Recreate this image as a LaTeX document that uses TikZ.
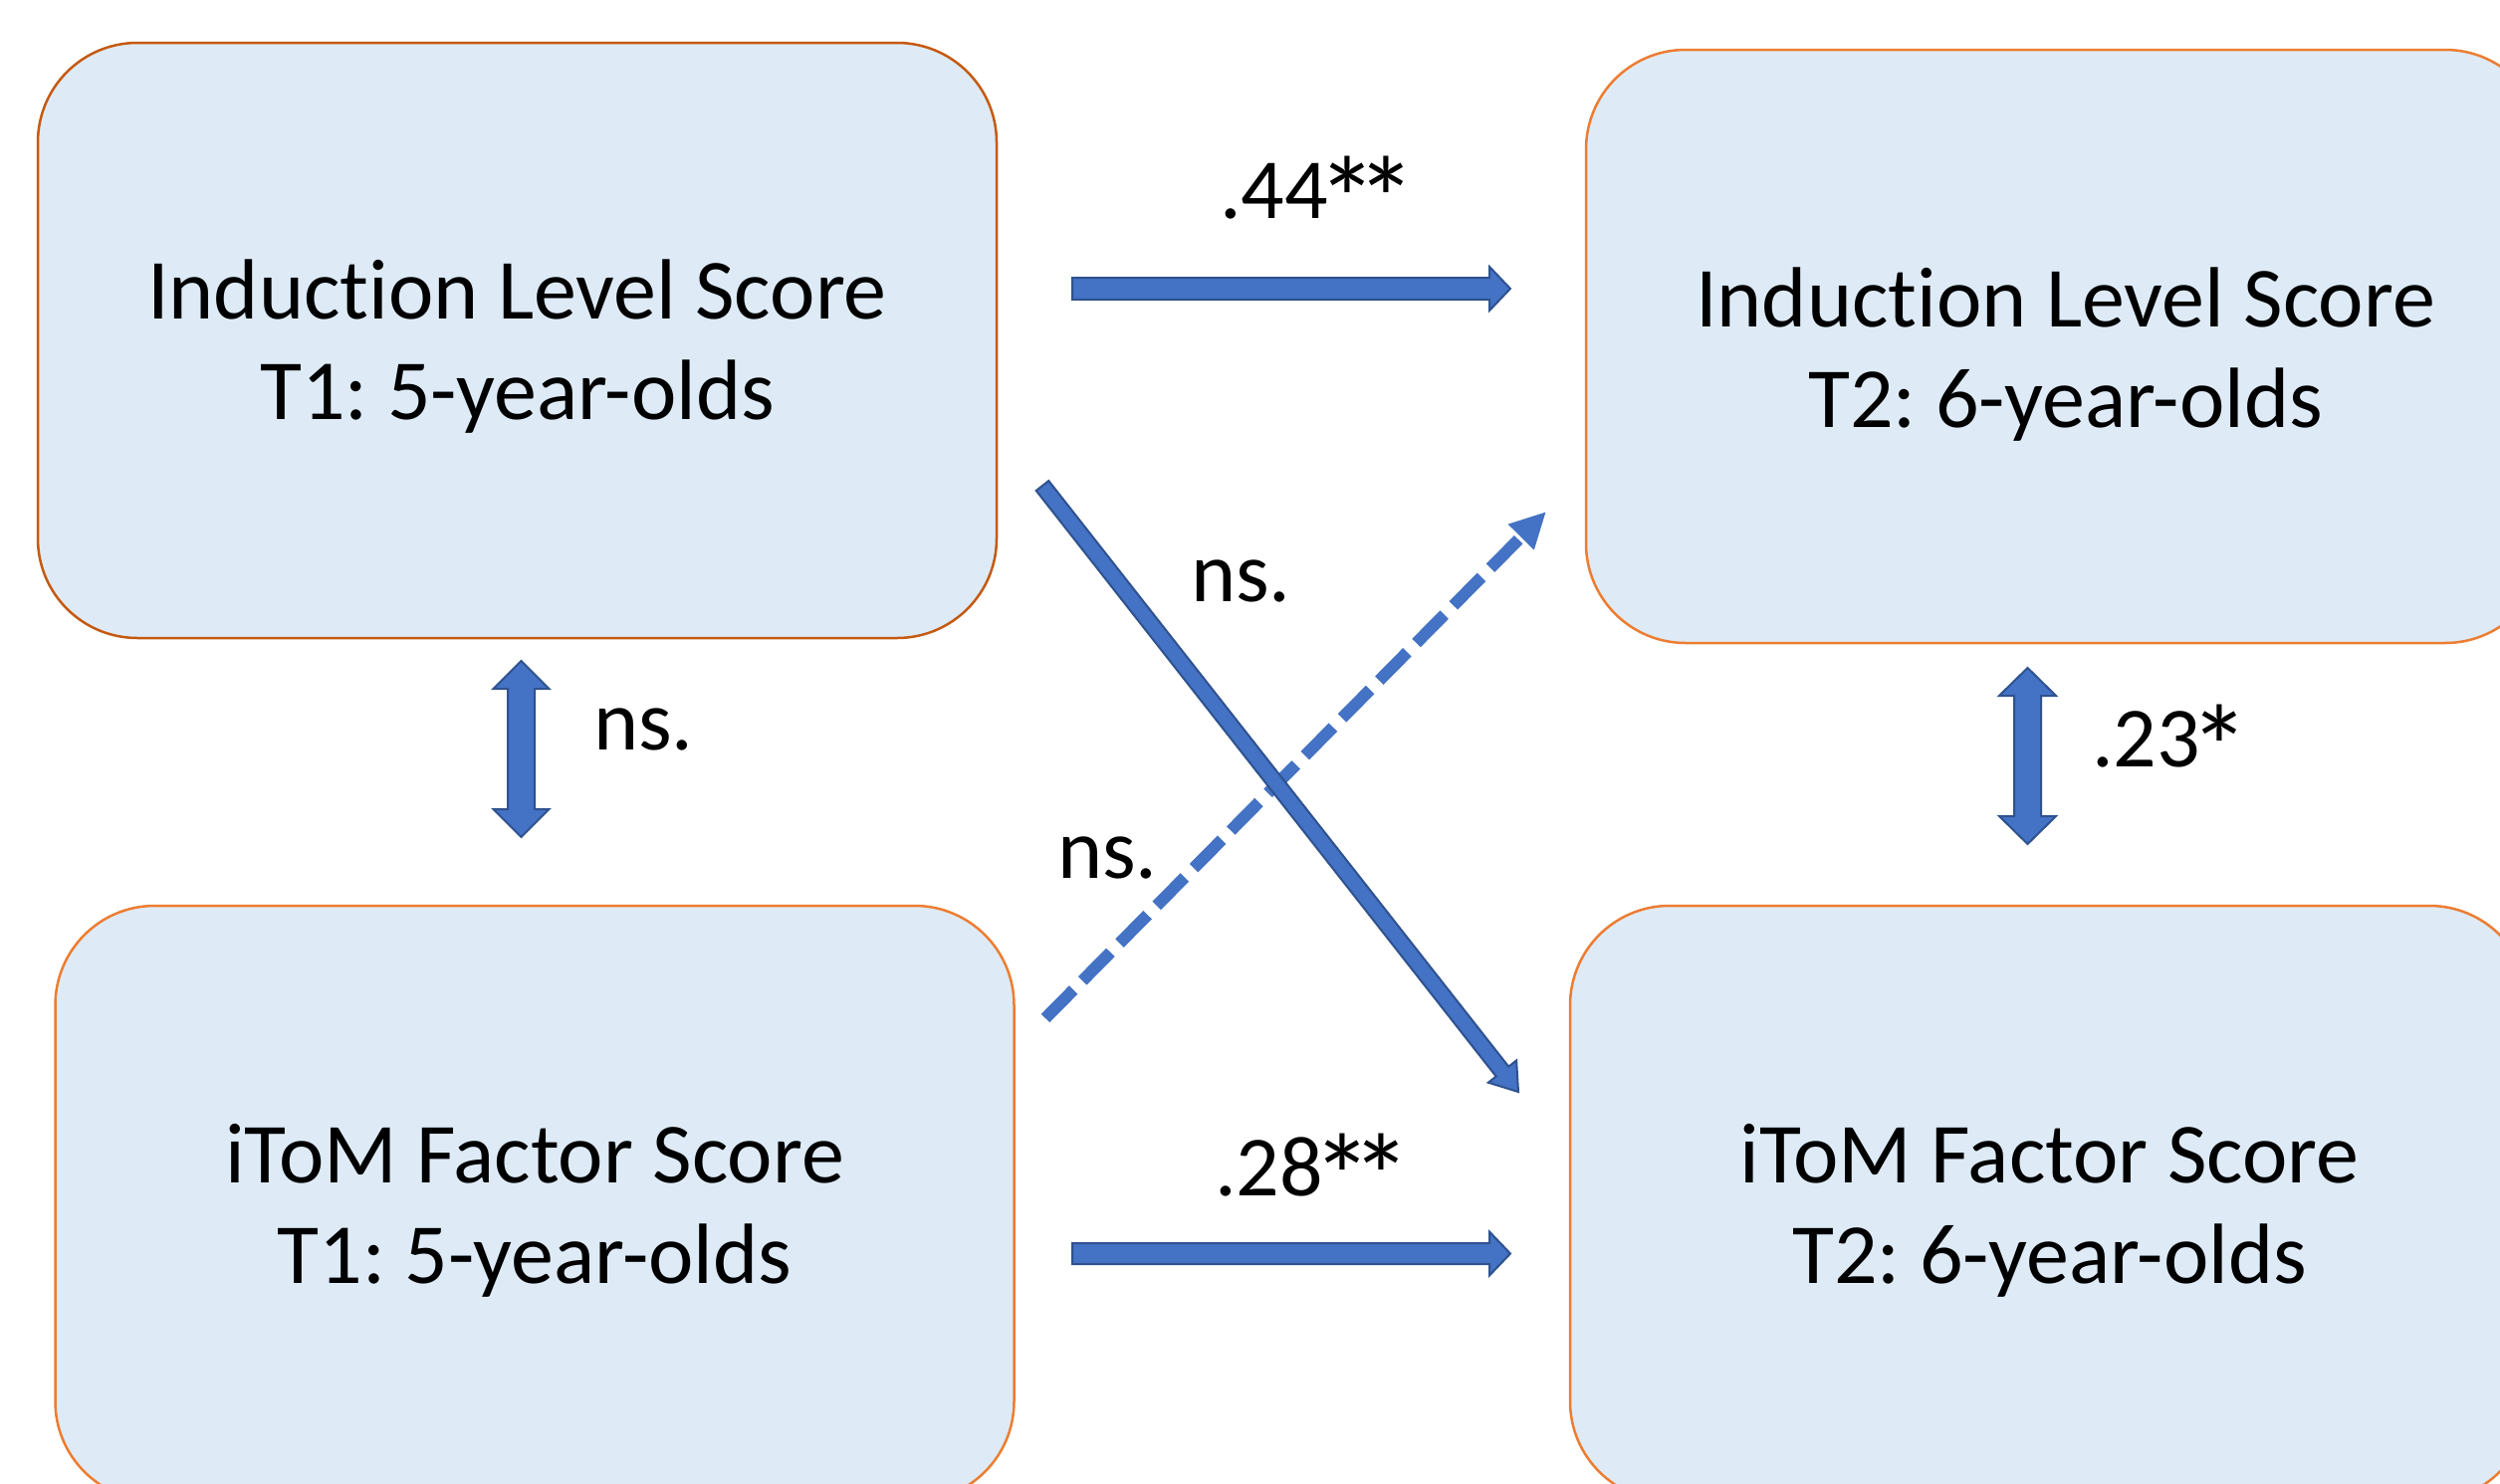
\documentclass[tikz,border=0pt]{standalone}
\usepackage{fontspec}
\setmainfont{Carlito}[Ligatures=NoCommon]
\usetikzlibrary{calc,arrows.meta}
\frenchspacing
\definecolor{boxfill}{HTML}{DEEBF7}
\definecolor{boxline}{HTML}{ED7D31}
\definecolor{boxlinedark}{HTML}{C55A11}
\definecolor{arrowfill}{HTML}{4472C4}
\definecolor{arrowline}{HTML}{2F528F}
\newcommand\bigast{\makebox[0.45em][c]{\raisebox{-0.27em}{\scalebox{1.4}{*}}}}
\tikzset{
  box/.style={draw=boxline, fill=boxfill, line width=2.5pt, rounded corners=100pt,
    minimum width=963pt, minimum height=598pt, inner sep=0pt},
  txt/.style={font=\fontsize{86pt}{101pt}\selectfont, inner sep=0pt, anchor=base},
  lbl/.style={font=\fontsize{86pt}{101pt}\selectfont, inner sep=0pt, anchor=base west},
  blockarrow/.style={fill=arrowfill, draw=arrowline, line width=2pt, line join=miter},
  dasharrow/.style={draw=arrowfill, line width=12pt, dash pattern=on 40pt off 13pt,
    -{Triangle[length=36pt, width=34pt]}},
}
\newcommand\blockarr[5]{%
  \coordinate (ba-c) at ($(#2)!#5!(#1)$);
  \draw[blockarrow] ($(#1)!#3!90:(#2)$) -- ($(ba-c)!#3!90:(#2)$) -- ($(ba-c)!#4!90:(#2)$) -- (#2)
    -- ($(ba-c)!#4!-90:(#2)$) -- ($(ba-c)!#3!-90:(#2)$) -- ($(#1)!#3!-90:(#2)$) -- cycle;
}
\newcommand\dblarr[5]{%
  \coordinate (da-c1) at ($(#1)!#5!(#2)$);
  \coordinate (da-c2) at ($(#2)!#5!(#1)$);
  \draw[blockarrow] (#1) -- ($(da-c1)!#4!90:(#2)$) -- ($(da-c1)!#3!90:(#2)$) -- ($(da-c2)!#3!90:(#2)$)
    -- ($(da-c2)!#4!90:(#2)$) -- (#2) -- ($(da-c2)!#4!-90:(#2)$) -- ($(da-c2)!#3!-90:(#2)$)
    -- ($(da-c1)!#3!-90:(#2)$) -- ($(da-c1)!#4!-90:(#2)$) -- cycle;
}
\begin{document}
\begin{tikzpicture}[x=1pt, y=-1pt]
\useasboundingbox (0,0) rectangle (2511,1491);
\clip (0,0) rectangle (2511,1491);
\fill[white] (0,0) rectangle (2511,1491);

% boxes
\node[box, draw=boxlinedark] (tl) at (519.5,342) {};
\node[box, minimum height=596pt] (tr) at (2074.5,348) {};
\node[box] (bl) at (537,1209) {};
\node[box] (br) at (2058.5,1209) {};

% box texts
\node[txt] (tl1) at (519.5,320) {Induction Level Score};
\node[txt] (tl2) at (519.5,421) {T1: 5-year-olds};
\node[txt] (tr1) at (2074.5,328) {Induction Level Score};
\node[txt] (tr2) at (2074.5,429) {T2: 6-year-olds};
\node[txt] (bl1) at (537,1188) {iToM Factor Score};
\node[txt] (bl2) at (537,1289) {T1: 5-year-olds};
\node[txt] (br1) at (2058.5,1188) {iToM Factor Score};
\node[txt] (br2) at (2058.5,1289) {T2: 6-year-olds};

% arrow end points
\coordinate (ta) at (1077,290);
\coordinate (tb) at (1517,290);
\coordinate (ba) at (1077,1259.5);
\coordinate (bb) at (1517,1259.5);
\coordinate (la) at (523.5,664);
\coordinate (lb) at (523.5,841);
\coordinate (ra) at (2036.5,671);
\coordinate (rb) at (2036.5,848);
\coordinate (sa) at (1047,488);
\coordinate (sb) at (1525,1097);
\coordinate (da) at (1050,1023);
\coordinate (db) at (1553,514);

% arrows
\blockarr{ta}{tb}{11pt}{22pt}{21pt}
\blockarr{ba}{bb}{10.5pt}{22pt}{21pt}
\dblarr{la}{lb}{13.5pt}{28pt}{28pt}
\dblarr{ra}{rb}{13.5pt}{28.5pt}{28pt}
\draw[dasharrow] (da) -- (db);
\blockarr{sa}{sb}{8pt}{18pt}{26pt}

% labels
\node[lbl] (l44) at (1225,219) {.44\bigast\bigast};
\node[lbl] (l28) at (1220,1201) {.28\bigast\bigast};
\node[lbl] (lns1) at (1196,604) {ns.};
\node[lbl] (lns2) at (1062,882) {ns.};
\node[lbl] (lns3) at (596,753) {ns.};
\node[lbl] (l23) at (2101,770) {.23\bigast};
\end{tikzpicture}
\end{document}
